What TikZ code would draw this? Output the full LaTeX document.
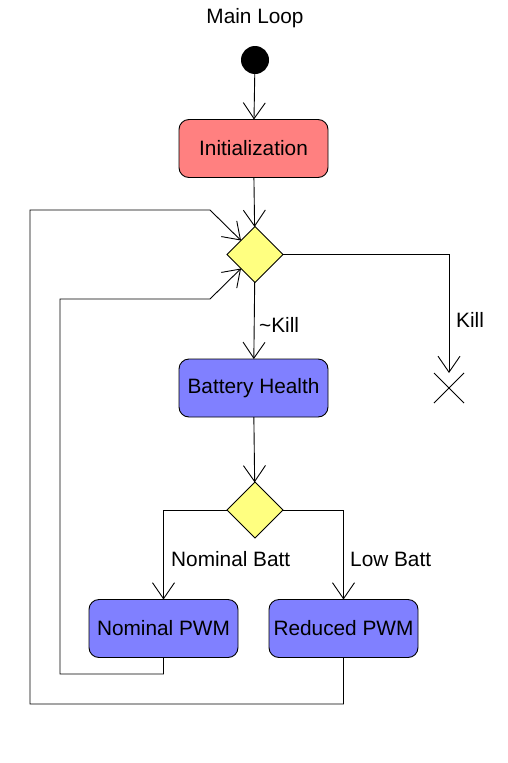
\documentclass[tikz,border=0pt]{standalone}
\usepackage{fontspec}
\setmainfont{Liberation Sans}
\usetikzlibrary{arrows.meta,shapes.geometric,shapes.misc,calc}
\definecolor{initpink}{RGB}{255,128,128}
\definecolor{actblue}{RGB}{128,128,255}
\definecolor{decyellow}{RGB}{255,255,128}
\begin{document}
\begin{tikzpicture}[x=1pt,y=-1pt,
  every node/.style={font=\fontsize{20.8}{25}\selectfont},
  act/.style={draw, line width=0.9pt, rounded corners=10pt, minimum width=149pt, minimum height=58pt, inner sep=0pt, outer sep=0pt},
  dec/.style={draw, line width=0.9pt, diamond, fill=decyellow, minimum width=56pt, minimum height=56pt, inner sep=0pt, outer sep=0pt},
  flow/.style={draw, line width=0.9pt, -{Straight Barb[length=16pt,width=22pt,line width=0.9pt]}},
  lbl/.style={anchor=west, inner sep=0pt}
]
\useasboundingbox (0,0) rectangle (507,763);
\fill[white] (0,0) rectangle (507,763);

\node (title) at (255,18) {Main Loop};
\node[circle, fill=black, minimum size=28pt, inner sep=0pt, outer sep=0pt] (start) at (255,60) {};
\node[act, fill=initpink] (init) at (253.5,148.5) {Initialization};
\node[dec] (d1) at (255,254.5) {};
\node[act, fill=actblue] (bh) at (253.5,388) {Battery Health};
\node[dec] (d2) at (255,510) {};
\node[act, fill=actblue] (np) at (163.5,628.5) {Nominal PWM};
\node[act, fill=actblue] (rp) at (343.5,628.5) {Reduced PWM};
\node[draw, cross out, line width=0.9pt, minimum size=30pt, inner sep=0pt, outer sep=0pt] (killend) at (449,388) {};

\node[lbl] (lnkill) at (259,325) {\textasciitilde Kill};
\node[lbl] (lkill) at (456,320) {Kill};
\node[lbl] (lnom) at (171,559) {Nominal Batt};
\node[lbl] (llow) at (350,559) {Low Batt};

\coordinate (outerbend) at (30,704);
\coordinate (outertop) at (210,210);
\coordinate (innerbend) at (60,674);
\coordinate (innertop) at (210,299);
\coordinate (d1ul) at ($(d1.west)!0.5!(d1.north)$);
\coordinate (d1ll) at ($(d1.west)!0.5!(d1.south)$);

\draw[flow] (start) -- (init);
\draw[flow] (init) -- (d1);
\draw[flow] (d1) -- (bh);
\draw[flow] (d1.east) -| (killend.north);
\draw[flow] (bh) -- (d2);
\draw[flow] (d2.west) -| (np.north);
\draw[flow] (d2.east) -| (rp.north);
\draw[flow] (rp.south) |- (outerbend) |- (outertop) -- (d1ul);
\draw[flow] (np.south) |- (innerbend) |- (innertop) -- (d1ll);
\end{tikzpicture}
\end{document}
